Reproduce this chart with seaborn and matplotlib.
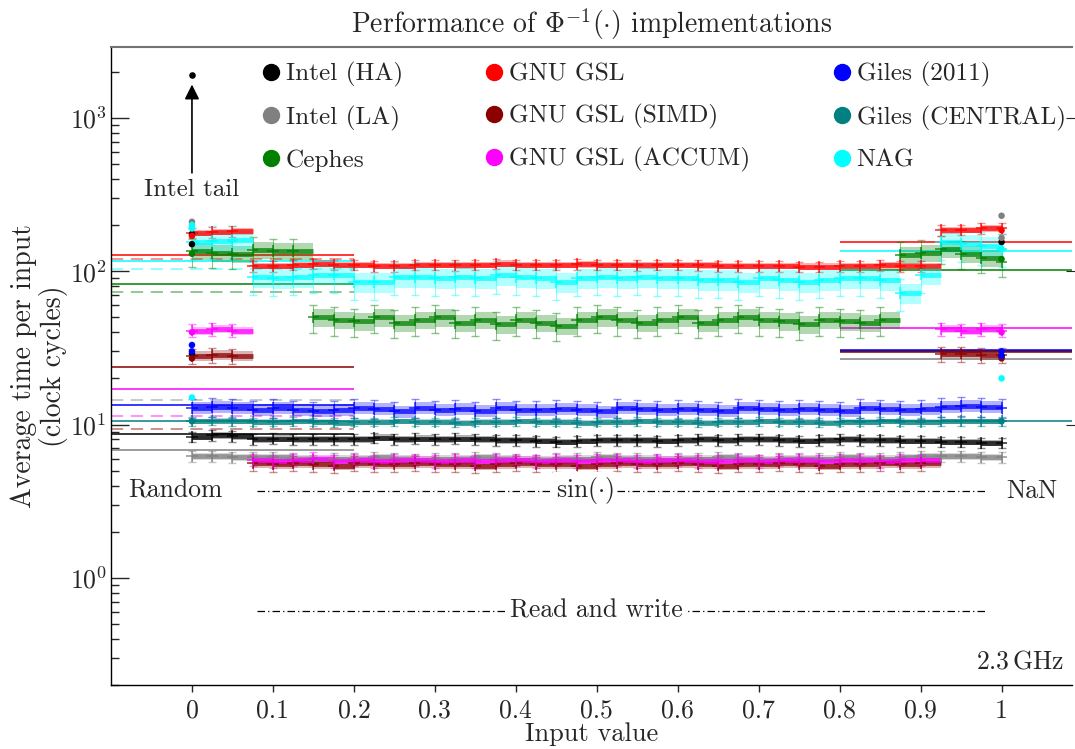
import numpy as np
import pandas as pd
import matplotlib
matplotlib.use("Agg")
import matplotlib.pyplot as plt
import seaborn as sns
from matplotlib.lines import Line2D
from matplotlib.ticker import FuncFormatter, NullLocator, LogLocator

# ---------------- data ----------------
implementations = ["Intel (HA)", "Intel (LA)", "Cephes", "GNU GSL", "GNU GSL (SIMD)",
                   "GNU GSL (ACCUM)", "Giles (2011)", "Giles (CENTRAL)", "NAG"]
colors = ["#000000", "#808080", "#008000", "#ff0000", "#8b0000",
          "#ff00ff", "#0000ff", "#008080", "#00ffff"]

# input values (x = 0, 0.025, ..., 1.0)
input_values = np.round(np.linspace(0.0, 1.0, 41), 3)

# average time per input (clock cycles) at each input value
t_intel_ha = [8.3, 8.5, 8.4,
              8.0, 8.1, 8.0, 8.0, 8.0, 8.0, 8.2, 8.0, 8.1, 8.0,
              8.1, 8.0, 7.9, 7.9, 7.8, 7.7, 7.8, 7.9, 7.9, 7.9,
              7.8, 7.9, 8.0, 7.9, 8.0, 8.0, 7.9, 7.8, 7.9, 8.0,
              7.9, 7.9, 7.8, 7.8,
              7.7, 7.7, 7.6, 7.6]
t_intel_la = [6.2, 6.2, 6.1,
              6.1, 6.1, 6.0, 5.9, 6.0, 6.0, 6.1, 6.0, 5.9, 6.0,
              6.0, 6.1, 6.0, 5.9, 5.9, 6.0, 6.0, 6.1, 6.0, 6.0,
              5.9, 6.0, 6.0, 6.1, 6.0, 5.9, 6.0, 6.0, 6.0, 6.1,
              6.0, 6.0, 6.1, 6.2,
              6.2, 6.2, 6.1, 6.1]
t_cephes = [135, 132, 130,
            138, 135, 135,
            50, 48, 47, 50, 46, 48, 50, 46, 48, 45,
            48, 46, 44, 48, 50, 48, 46, 48, 50, 46,
            48, 50, 48, 47, 45, 48, 47, 46, 48,
            128, 132,
            140, 130, 122, 115]
t_gsl = [178, 180, 182,
         108, 108, 110, 112, 110, 110, 108, 108, 110, 110,
         109, 110, 112, 110, 110, 110, 111, 110, 110, 109,
         110, 110, 109, 108, 108, 108, 108, 107, 107, 108,
         108, 109, 108, 108,
         185, 186, 190, 190]
t_gsl_simd = [28, 28.5, 28,
              5.6, 5.5, 5.6, 5.5, 5.4, 5.6, 5.5, 5.5, 5.6, 5.5,
              5.5, 5.4, 5.5, 5.6, 5.5, 5.5, 5.4, 5.5, 5.6, 5.5,
              5.5, 5.6, 5.5, 5.4, 5.5, 5.5, 5.6, 5.5, 5.4, 5.5,
              5.5, 5.6, 5.5, 5.6,
              29, 29, 28.5, 28.5]
t_gsl_accum = [41, 42, 41,
               5.9, 5.8, 5.9, 6.0, 5.8, 5.9, 5.8, 5.9, 5.9, 5.8,
               5.9, 5.8, 5.9, 5.9, 5.8, 5.9, 5.8, 5.9, 5.9, 5.8,
               5.9, 5.9, 5.8, 5.8, 5.9, 5.8, 5.9, 5.9, 5.8, 5.9,
               5.9, 5.8, 5.9, 5.9,
               42, 41, 42, 41]
t_giles = [12.8, 13.0, 12.8,
           12.5, 12.8, 12.5, 12.3, 12.5, 12.8, 12.6, 12.2, 12.8, 12.5,
           12.6, 12.3, 12.8, 12.5, 12.4, 12.7, 12.5, 12.2, 12.8, 12.6,
           12.4, 12.7, 12.5, 12.3, 12.8, 12.6, 12.4, 12.7, 12.5, 12.3,
           12.8, 12.6, 12.5, 12.7,
           13.0, 13.2, 13.0, 12.8]
t_giles_central = [10.5, 10.6, 10.5,
                   10.4, 10.4, 10.5, 10.4, 10.3, 10.4, 10.4, 10.5, 10.4, 10.4,
                   10.3, 10.4, 10.4, 10.5, 10.4, 10.4, 10.3, 10.4, 10.4, 10.5,
                   10.4, 10.4, 10.3, 10.4, 10.4, 10.5, 10.4, 10.4, 10.3, 10.4,
                   10.4, 10.5, 10.4, 10.4,
                   10.5, 10.5, 10.5, 10.5]
t_nag = [155, 158, 160,
         92, 90, 92, 95, 95, 85, 85, 92, 92, 90,
         92, 90, 94, 92, 90, 85, 90, 92, 90, 92,
         90, 90, 88, 88, 85, 90, 88, 85, 88, 90,
         90, 88, 72, 95,
         155, 150, 145, 140]

# relative spread of repeated measurements (band half-width, error bar)
spread = [0.05, 0.05, 0.13, 0.05, 0.07, 0.06, 0.09, 0.04, 0.15]

# isolated measurements at x = 0 and x = 1
start_points = [[150, 175, 29], [210], [130], [170], [27], [40], [30, 33], [10.5], [190, 200, 15]]
end_points = [[155, 28], [165, 230], [120], [185], [27], [40], [28, 30], [10.5], [140, 20]]
intel_tail = 1900

# reference levels: random input (solid / dashed) and NaN input
random_solid = [8.65, 6.8, 83, 127, 23.7, 17.0, 13.4, 10.5, 116]
random_dashed = [None, 14.5, 73, 120.5, 9.4, 11.3, None, None, 104]
nan_solid = [30.3, 26.7, 102, 155.5, 29.8, 42.9, 30.8, 10.5, 135]

series = [t_intel_ha, t_intel_la, t_cephes, t_gsl, t_gsl_simd,
          t_gsl_accum, t_giles, t_giles_central, t_nag]

# ---------------- style ----------------
sns.set_style("ticks")
plt.rcParams["font.family"] = ["cmr10", "DejaVu Serif"]
plt.rcParams["mathtext.fontset"] = "cm"
plt.rcParams["axes.formatter.use_mathtext"] = True
plt.rcParams["axes.unicode_minus"] = False

palette = dict(zip(implementations, colors))

frames = []
for name, vals in zip(implementations, series):
    frames.append(pd.DataFrame({"x": input_values, "t": vals, "impl": name}))
df = pd.concat(frames, ignore_index=True)

fig, ax = plt.subplots(figsize=(10.75, 7.49), dpi=100)
fig.subplots_adjust(left=111 / 1075, right=1072 / 1075, bottom=1 - 685 / 749, top=1 - 47 / 749)
ax.set_yscale("log")
XMIN, XMAX = -0.1, 1.087
ax.set_xlim(XMIN, XMAX)
ax.set_ylim(0.2, 2900)

# reference lines
for c, rs, rd, ns in zip(colors, random_solid, random_dashed, nan_solid):
    ax.hlines(rs, XMIN, 0.2, color=c, lw=1.1, zorder=1)
    if rd is not None:
        ax.hlines(rd, XMIN, 0.2, color=c, lw=1.1, ls=(0, (8, 5)), alpha=0.55, zorder=1)
    ax.hlines(ns, 0.8, XMAX, color=c, lw=1.1, zorder=1)

# measurement bands (no vertical connectors between levels)
xv = np.asarray(input_values)
for name, c, vals, s in zip(implementations, colors, series, spread):
    v = np.asarray(vals, dtype=float)
    ax.fill_between(xv, v * (1 - s), v * (1 + s), step="post",
                    color=c, alpha=0.3, lw=0, zorder=2)
    ax.hlines(v[:-1], xv[:-1], xv[1:], color=c, lw=3.5, alpha=0.75, zorder=3)
    ax.errorbar(xv, v, yerr=[v * s * 1.6, v * s * 1.6], fmt="none",
                ecolor=c, elinewidth=0.8, capsize=3, alpha=0.45, zorder=2)

sns.scatterplot(data=df, x="x", y="t", hue="impl", palette=palette, hue_order=implementations,
                marker="+", s=70, linewidth=1.1, alpha=0.85, legend=False, ax=ax, zorder=4)

edge_rows = []
for name, sp, ep in zip(implementations, start_points, end_points):
    for v in sp:
        edge_rows.append({"x": 0.0, "t": v, "impl": name})
    for v in ep:
        edge_rows.append({"x": 1.0, "t": v, "impl": name})
edge_df = pd.DataFrame(edge_rows)
sns.scatterplot(data=edge_df, x="x", y="t", hue="impl", palette=palette, hue_order=implementations,
                marker="o", s=22, linewidth=0, legend=False, ax=ax, zorder=5)

# Intel tail
ax.scatter([0.0], [intel_tail], s=14, color="black", zorder=6)
ax.annotate("", xy=(0.0, 1720), xytext=(0.0, 420),
            arrowprops=dict(arrowstyle="-|>", color="black", lw=1.2, mutation_scale=22))
ax.text(0.0, 340, "Intel tail", ha="center", va="center", fontsize=18)

# annotations
dash_dot = (0, (6, 2.5, 1, 2.5))
ax.hlines(3.7, 0.08, 0.98, color="black", lw=0.9, ls=dash_dot, zorder=1)
ax.hlines(0.61, 0.08, 0.98, color="black", lw=0.9, ls=dash_dot, zorder=1)
box = dict(facecolor="white", edgecolor="none", pad=2)
ax.text(0.485, 3.7, r"$\sin(\cdot)$", ha="center", va="center", fontsize=18.5, bbox=box, zorder=3)
ax.text(0.5, 0.61, "Read and write", ha="center", va="center", fontsize=18.5, bbox=box, zorder=3)
ax.text(-0.02, 3.7, "Random", ha="center", va="center", fontsize=18.5)
ax.text(1.037, 3.7, "NaN", ha="center", va="center", fontsize=18.5)
ax.text(1.078, 0.283, r"2.3$\,$GHz", ha="right", va="center", fontsize=18.5)

# axes styling
ax.set_xticks([0, 0.1, 0.2, 0.3, 0.4, 0.5, 0.6, 0.7, 0.8, 0.9, 1.0])
ax.xaxis.set_major_formatter(FuncFormatter(lambda v, p: f"{v:g}"))
ax.yaxis.set_major_locator(LogLocator(base=10, numticks=10))
ax.yaxis.set_minor_locator(LogLocator(base=10, subs=np.arange(2, 10), numticks=20))
ax.tick_params(axis="y", which="major", direction="in", length=13, width=1, labelsize=18.5, pad=3)
ax.tick_params(axis="y", which="minor", direction="in", length=6, width=1)
ax.tick_params(axis="x", which="major", direction="out", length=5, width=1, labelsize=18.5, pad=5)
ax.spines["right"].set_visible(False)
ax.spines["top"].set_color("0.45")
ax.spines["top"].set_linewidth(1.5)
for s in ["left", "bottom"]:
    ax.spines[s].set_color("black")
    ax.spines[s].set_linewidth(1.0)

ax.set_title(r"Performance of $\Phi^{-1}(\cdot)$ implementations", fontsize=20, pad=10)
ax.set_xlabel("Input value", fontsize=19, labelpad=0)
ax.set_ylabel("Average time per input\n(clock cycles)", fontsize=20, labelpad=1, linespacing=1.1)

# right-hand ticks
ax2 = ax.twinx()
ax2.set_yscale("log")
ax2.set_ylim(ax.get_ylim())
ax2.set_yticks([10, 100, 1000])
ax2.yaxis.set_minor_locator(NullLocator())
ax2.tick_params(axis="y", direction="inout", length=8, labelright=False)
for s in ax2.spines.values():
    s.set_visible(False)

handles = [Line2D([], [], marker="o", ls="", color=c, markersize=11.5, label=n)
           for n, c in zip(implementations, colors)]
ax.legend(handles=handles, ncol=3, loc="upper left", bbox_to_anchor=(0.153, 0.976),
          frameon=False, fontsize=18.2, handletextpad=0.1, handlelength=1.0,
          columnspacing=3.1, labelspacing=0.72, borderaxespad=0, borderpad=0)

fig.savefig("out.png", dpi=100)
